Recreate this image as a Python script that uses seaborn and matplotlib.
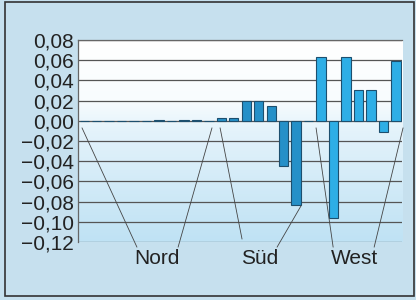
import numpy as np
import pandas as pd
import matplotlib
matplotlib.use("Agg")
import matplotlib.pyplot as plt
import seaborn as sns
from matplotlib.ticker import FuncFormatter
from matplotlib.patches import Rectangle

# Data (26 slots, empty slots are 0)
values = [0, 0, 0, 0, 0, 0, 0.0004, 0, 0.0004, 0.0004, 0,
          0.003, 0.003, 0.020, 0.020, 0.015, -0.045, -0.083,
          0, 0.063, -0.096, 0.063, 0.030, 0.030, -0.011, 0.059]
regions = ["Nord"] * 11 + ["Süd"] * 7 + ["West"] * 8
region_labels = ["Nord", "Süd", "West"]
label_x = [5.84, 14.1, 21.65]
# leader lines: (x top, y top, x bottom, y bottom) in data units
leaders = [(-0.18, -0.007, 4.23, -0.125), (10.25, -0.007, 7.53, -0.125),
           (10.9, -0.007, 12.66, -0.117), (17.4, -0.084, 15.47, -0.125),
           (18.6, -0.007, 19.97, -0.125), (25.58, -0.007, 23.26, -0.125)]

df = pd.DataFrame({"slot": [str(i) for i in range(len(values))],
                   "value": values, "region": regions})

sns.set_style("white")
plt.rcParams["font.family"] = ["Liberation Sans", "DejaVu Sans"]
plt.rcParams["axes.unicode_minus"] = True

fig = plt.figure(figsize=(4.16, 3.0), dpi=100)
fig.patch.set_facecolor("#c6e0ee")
ax = fig.add_axes([0.1875, 0.193, 0.779, 0.674])

# gradient background of the plot area: white at top, pale blue at bottom
grad = np.linspace(1, 0, 256).reshape(-1, 1)
cmap = matplotlib.colors.LinearSegmentedColormap.from_list(
    "bg", [(0, "#ffffff"), (0.3, "#f8fcfe"), (0.45, "#e4f3fb"), (1, "#bfe2f4")])
ax.imshow(grad, extent=(-0.5, 25.5, -0.12, 0.08), origin="lower", aspect="auto", cmap=cmap, zorder=0)

sns.barplot(data=df, x="slot", y="value", hue="region", dodge=False, saturation=1,
            palette={"Nord": "#2590c8", "Süd": "#2590c8", "West": "#2eaee6"},
            edgecolor="#1d4f6e", linewidth=0.8, width=0.75, legend=False, ax=ax, zorder=3)

ax.set_xlim(-0.5, 25.5)
ax.set_ylim(-0.12, 0.08)
ax.set_yticks(np.arange(-0.12, 0.081, 0.02))
ax.yaxis.set_major_formatter(FuncFormatter(lambda v, p: f"{v:.2f}".replace(".", ",").replace("-", "\u2212")))
ax.tick_params(axis="y", labelsize=15, length=0, pad=3, colors="#222222")
ax.set_xticks([])
ax.set_xlabel("")
ax.set_ylabel("")
for y in np.arange(-0.12, 0.081, 0.02):
    ax.axhline(y, color="#555555", lw=0.9, zorder=1)
for s in ["top", "left"]:
    ax.spines[s].set_color("#666666")
    ax.spines[s].set_linewidth(0.9)
for s in ["right", "bottom"]:
    ax.spines[s].set_visible(False)

for x0, y0, x1, y1 in leaders:
    ax.plot([x0, x1], [y0, y1], color="#444444", lw=0.6, clip_on=False, zorder=4)
for name, x in zip(region_labels, label_x):
    ax.text(x, -0.1365, name, ha="center", va="center", fontsize=15, color="#222222", clip_on=False)

fig.patches.append(Rectangle((5 / 416, 4 / 300), 409 / 416, 294 / 300, transform=fig.transFigure,
                             fill=False, edgecolor="#333333", lw=1.2))

fig.savefig("out.png", dpi=100, facecolor=fig.get_facecolor())
